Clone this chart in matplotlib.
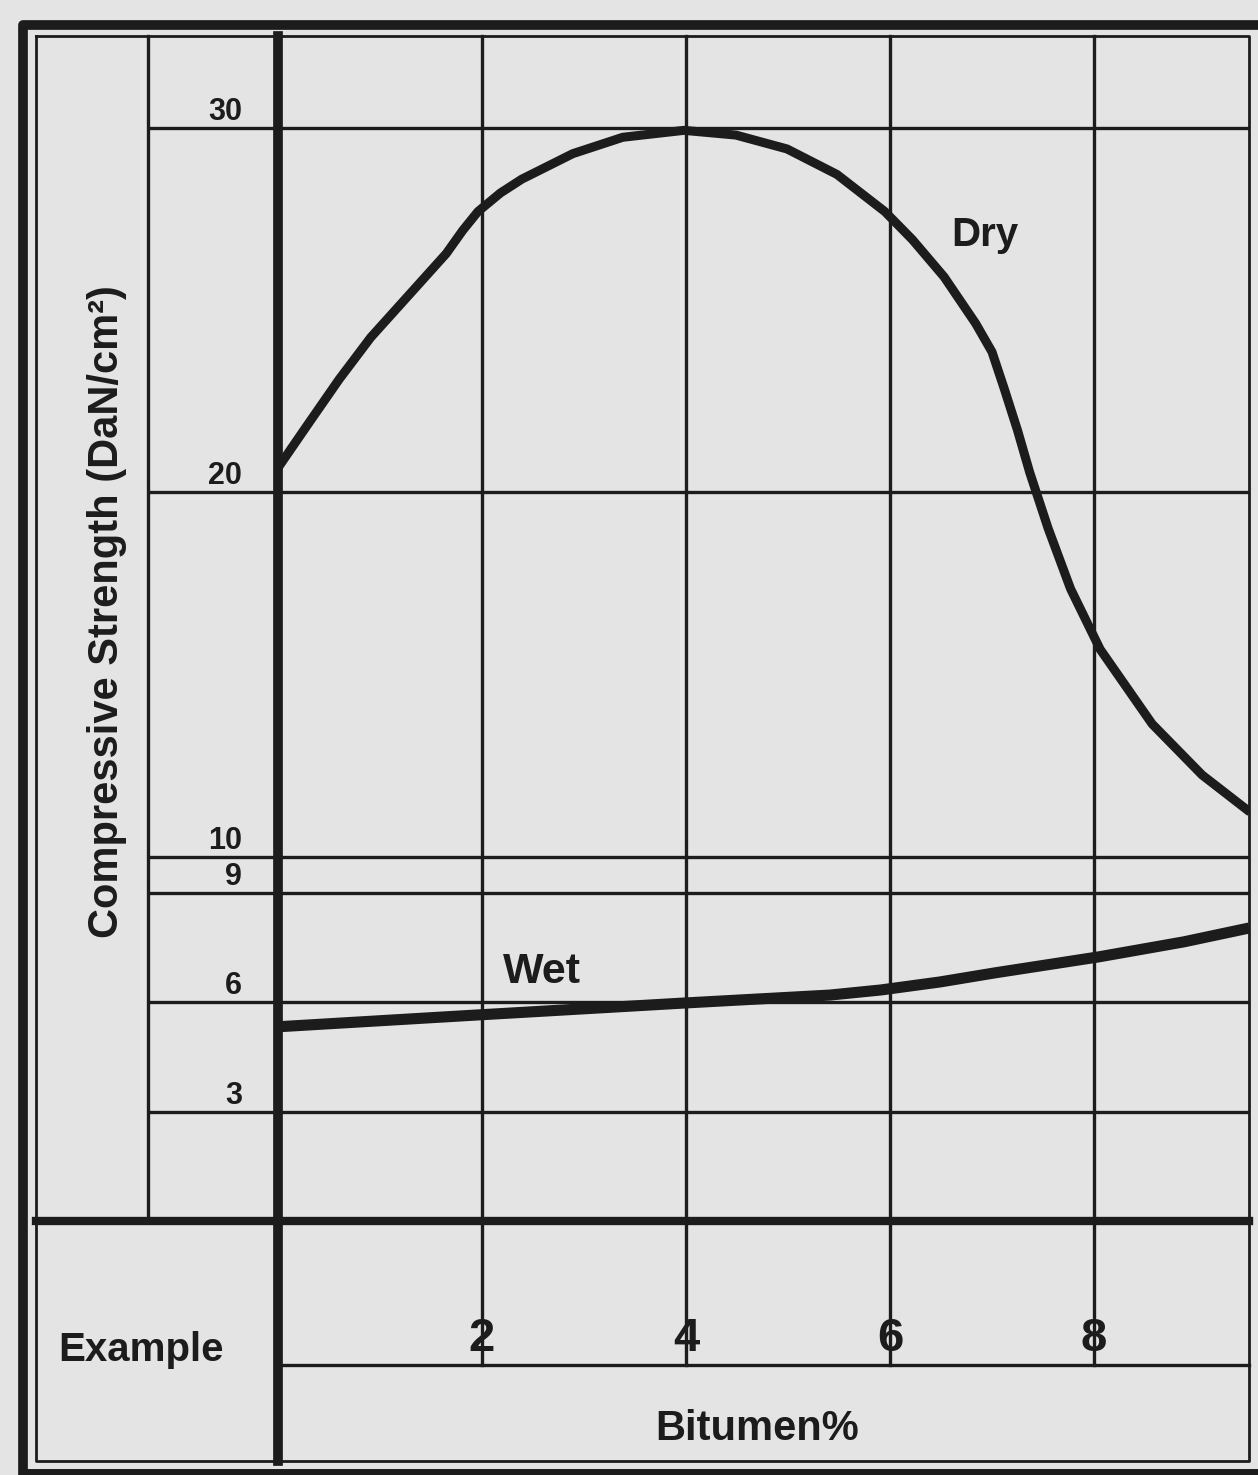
import matplotlib
matplotlib.use("Agg")
import matplotlib.pyplot as plt
from matplotlib.transforms import offset_copy, blended_transform_factory

plt.rcParams["font.family"] = ["Liberation Sans", "DejaVu Sans"]

# Compressive strength (daN/cm2) of bitumen-stabilised soil against bitumen content (%)
dry_bitumen = [0.0, 0.29, 0.60, 0.91, 1.28, 1.65, 1.81, 1.96, 2.18, 2.39, 2.89, 3.38, 3.98,
               4.49, 4.99, 5.48, 5.95, 6.22, 6.53, 6.84, 7.00, 7.12, 7.25, 7.37, 7.55, 7.77,
               8.06, 8.57, 9.06, 9.53]
dry_strength = [20.67, 21.85, 23.10, 24.25, 25.40, 26.55, 27.18, 27.70, 28.21, 28.59, 29.29, 29.74,
                29.93, 29.80, 29.42, 28.72, 27.70, 26.93, 25.91, 24.63, 23.85, 22.84, 21.70,
                20.54, 19.01, 17.35, 15.69, 13.64, 12.24, 11.22]

wet_bitumen = [0.0, 1.93, 3.97, 5.41, 5.91, 6.49, 7.03, 8.05, 8.88, 9.52]
wet_strength = [5.33, 5.65, 5.98, 6.20, 6.34, 6.56, 6.81, 7.25, 7.66, 8.04]

strength_ticks = [30, 20, 10, 9, 6, 3]
bitumen_ticks = [2, 4, 6, 8]

ink = "#1c1c1c"
paper = "#e4e4e4"

W, H = 1258, 1475
fig = plt.figure(figsize=(W / 100, H / 100), dpi=100, facecolor=paper)

# ruled table around the graph, in pixel units
frame = fig.add_axes([0, 0, 1, 1])
frame.set_xlim(0, W)
frame.set_ylim(H, 0)
frame.axis("off")


def rule(xs, ys, lw):
    frame.plot(xs, ys, color=ink, lw=lw, solid_capstyle="projecting")


rule([23, 23, 1290], [1472, 25, 25], 7)
rule([23, 1290], [1472, 1472], 5)
rule([36, 1249, 1249, 36, 36], [36, 36, 1461, 1461, 36], 2)
rule([148, 148], [36, 1221], 2.4)
rule([278, 1249], [1365, 1365], 2.4)

# graph area: x = 0 sits on the heavy vertical rule, y = 0 on the heavy horizontal rule
L, R, T, B = 148, 1249, 36, 1221
x0_px, px_per_pct, px_per_unit = 278, 102.0, 36.44
ax = fig.add_axes([L / W, 1 - B / H, (R - L) / W, (B - T) / H])
ax.set_facecolor("none")
ax.set_xlim((L - x0_px) / px_per_pct, (R - x0_px) / px_per_pct)
ax.set_ylim(0, (B - T) / px_per_unit)
ax.axis("off")

below = (1365 - B) / (B - T)
ax.axvline(0, ymin=-(1461 - B) / (B - T), ymax=1, color=ink, lw=7, clip_on=False)
ax.axhline(0, xmin=-(L - 36) / (R - L), xmax=1, color=ink, lw=6, clip_on=False)
for v in strength_ticks:
    ax.axhline(v, color=ink, lw=2.4)
for v in bitumen_ticks:
    ax.axvline(v, ymin=-below, ymax=1, color=ink, lw=2.4, clip_on=False)

ax.plot(dry_bitumen, dry_strength, color=ink, lw=6.5, solid_capstyle="butt",
        solid_joinstyle="round")
ax.plot(wet_bitumen, wet_strength, color=ink, lw=8, solid_capstyle="butt",
        solid_joinstyle="round")

ax.text(6.6, 26.76, "Dry", ha="left", va="baseline", fontsize=29, fontweight="bold", color=ink)
ax.text(2.21, 6.53, "Wet", ha="left", va="baseline", fontsize=31, fontweight="bold", color=ink)

# strength values sit just above their rules
raised = offset_copy(ax.transData, fig=fig, x=0, y=8, units="dots")
for v in strength_ticks:
    ax.text(-0.35, v, str(v), transform=raised, ha="right", va="baseline",
            fontsize=22, fontweight="bold", color=ink, clip_on=False)

# bitumen values in the "Example" row
row = blended_transform_factory(ax.transData, ax.transAxes)
for v in bitumen_ticks:
    ax.text(v, -(1351 - B) / (B - T), str(v), transform=row, ha="center", va="baseline",
            fontsize=34, fontweight="bold", color=ink, clip_on=False,
            family=["Liberation Sans Narrow", "Liberation Sans", "DejaVu Sans"])

frame.text(141, 1361, "Example", ha="center", va="baseline", fontsize=29,
           fontweight="bold", color=ink)
frame.text(757, 1440, "Bitumen%", ha="center", va="baseline", fontsize=30,
           fontweight="bold", color=ink)
frame.text(107, 612, "Compressive Strength (DaN/cm²)", rotation=90, ha="center",
           va="center", fontsize=30, fontweight="bold", color=ink)

fig.savefig("out.png", dpi=100, facecolor=paper)
